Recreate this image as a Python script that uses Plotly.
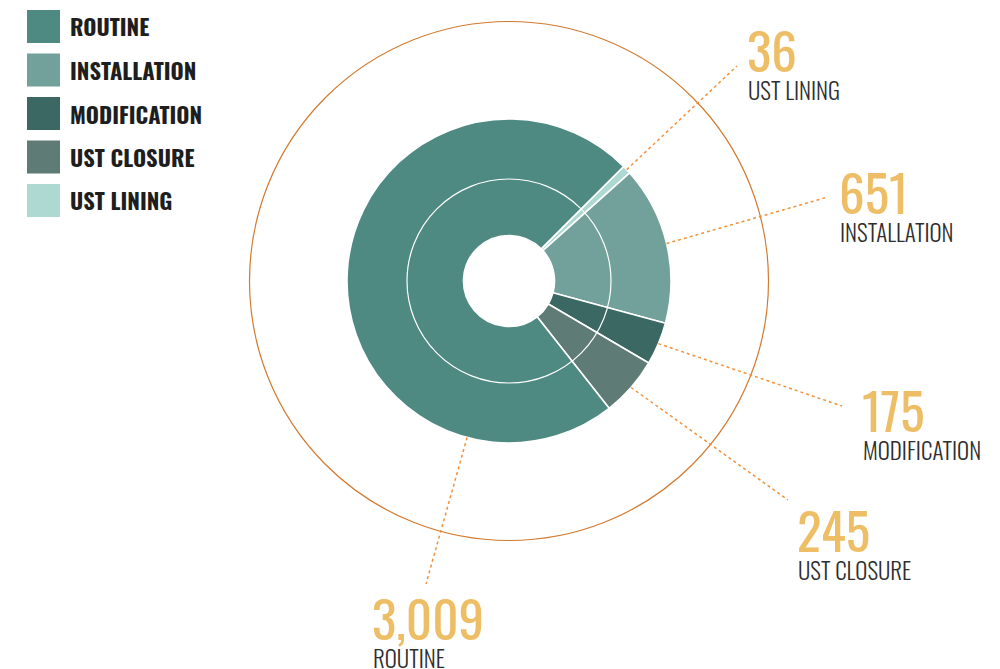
import math
import plotly.graph_objects as go

# ---- data ----
categories = ["ROUTINE", "INSTALLATION", "MODIFICATION", "UST CLOSURE", "UST LINING"]
values = [3009, 651, 175, 245, 36]
colors = ["#4E8A82", "#72A09A", "#3B6862", "#5F7B75", "#AED8D2"]
pie_order = ["UST LINING", "INSTALLATION", "MODIFICATION", "UST CLOSURE", "ROUTINE"]

# ---- layout constants (pixels) ----
W, H = 1000, 669
CX, CY = 509, 281          # pie centre
R_OUT, R_HOLE, R_INNER, R_RING = 162, 45.5, 102, 259.5
ROTATION = 45

# label positions: (number cap-top-left x, y), leader end point
label_pos = {
    "ROUTINE": (372, 596),
    "INSTALLATION": (839, 170),
    "MODIFICATION": (862, 388),
    "UST CLOSURE": (797, 508),
    "UST LINING": (747, 28),
}
leader_end = {
    "ROUTINE": (426, 584),
    "INSTALLATION": (828, 197),
    "MODIFICATION": (842, 406),
    "UST CLOSURE": (788, 500),
    "UST LINING": (737, 66),
}
leader_angle_override = {"ROUTINE": 195}

FONT = "Oswald, Roboto Condensed, DejaVu Sans Condensed, sans-serif"
NUM_SIZE = 51
SUB_SIZE = 23
LEG_SIZE = 22.5
GOLD = "#EDBE66"
TXT = "#2E2E2E"
# offsets from cap top to annotation box top (fraction of font size)
CAP_OFF = 0.38


def px(x):
    return x / W


def py(y):
    return 1 - y / H


val = dict(zip(categories, values))
col = dict(zip(categories, colors))
total = sum(values)

fig = go.Figure()
fig.add_trace(go.Pie(
    labels=pie_order,
    values=[val[c] for c in pie_order],
    marker=dict(colors=[col[c] for c in pie_order], line=dict(color="white", width=1.6)),
    sort=False,
    direction="clockwise",
    rotation=ROTATION,
    hole=R_HOLE / R_OUT,
    textinfo="none",
    hoverinfo="label+value",
    domain=dict(x=[px(CX - R_OUT), px(CX + R_OUT)], y=[py(CY + R_OUT), py(CY - R_OUT)]),
    showlegend=False,
))

shapes = []
# inner white ring
shapes.append(dict(type="circle", xref="paper", yref="paper",
                   x0=px(CX - R_INNER), x1=px(CX + R_INNER),
                   y0=py(CY + R_INNER), y1=py(CY - R_INNER),
                   line=dict(color="white", width=1.2), layer="above"))
# outer orange ring
shapes.append(dict(type="circle", xref="paper", yref="paper",
                   x0=px(CX - R_RING), x1=px(CX + R_RING),
                   y0=py(CY + R_RING), y1=py(CY - R_RING),
                   line=dict(color="#D27A2E", width=1.2), layer="below"))

# leader lines from slice mid-angles
ang = ROTATION
annotations = []
for c in pie_order:
    span = val[c] / total * 360
    mid = leader_angle_override.get(c, ang + span / 2)
    ang += span
    a = math.radians(mid)
    sx = CX + R_OUT * math.sin(a)
    sy = CY - R_OUT * math.cos(a)
    ex, ey = leader_end[c]
    shapes.append(dict(type="line", xref="paper", yref="paper",
                       x0=px(sx), y0=py(sy), x1=px(ex), y1=py(ey),
                       line=dict(color="#F0923A", width=1.5, dash="dot")))
    lx, ly = label_pos[c]
    annotations.append(dict(xref="paper", yref="paper", x=px(lx - 2), y=py(ly - CAP_OFF * NUM_SIZE),
                            xanchor="left", yanchor="top", showarrow=False,
                            text=f"{val[c]:,}",
                            font=dict(family=FONT, size=NUM_SIZE, color=GOLD, weight=400)))
    annotations.append(dict(xref="paper", yref="paper", x=px(lx - 1), y=py(ly + 52 - CAP_OFF * SUB_SIZE),
                            xanchor="left", yanchor="top", showarrow=False,
                            text=c,
                            font=dict(family=FONT, size=SUB_SIZE, color=TXT, weight=300)))

# legend (squares + bold labels)
LEG_X, LEG_TOP, LEG_SQ, LEG_STEP = 27, 10, 33, 43.5
for i, c in enumerate(categories):
    top = LEG_TOP + i * LEG_STEP
    shapes.append(dict(type="rect", xref="paper", yref="paper",
                       x0=px(LEG_X), x1=px(LEG_X + LEG_SQ), y0=py(top + LEG_SQ), y1=py(top),
                       fillcolor=col[c], line=dict(width=0)))
    annotations.append(dict(xref="paper", yref="paper", x=px(LEG_X + 41), y=py(top + LEG_SQ / 2),
                            xanchor="left", yanchor="middle", showarrow=False,
                            text=c,
                            font=dict(family=FONT, size=LEG_SIZE, color="#1E1E1E", weight=700)))

fig.update_layout(
    width=W, height=H,
    margin=dict(l=0, r=0, t=0, b=0),
    paper_bgcolor="white", plot_bgcolor="white",
    shapes=shapes, annotations=annotations,
    showlegend=False,
)
fig.write_html("out.html", config={"displayModeBar": False},
               post_script="document.body.style.margin='0';")
